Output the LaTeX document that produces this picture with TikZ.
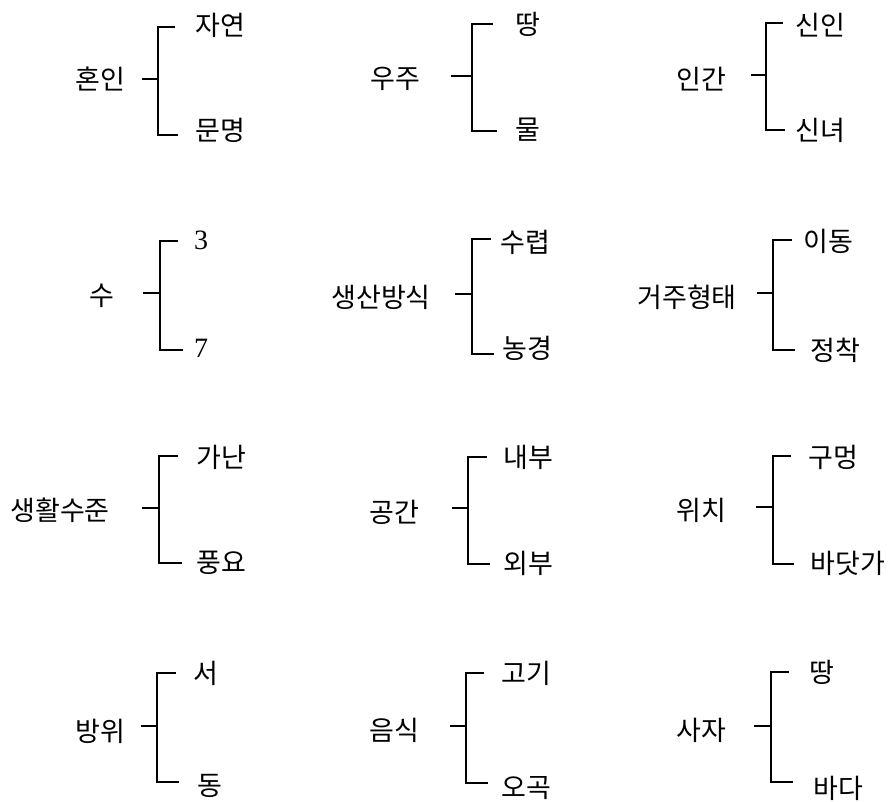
\documentclass[tikz,border=0pt]{standalone}
\usepackage{fontspec}
\setmainfont{Liberation Serif}
\newfontfamily\kr{Noto Sans CJK KR}
\tikzset{
  lbl/.style={inner sep=0pt, font=\kr\fontsize{27}{29}\selectfont},
  numlbl/.style={inner sep=0pt, font=\fontsize{28}{30}\selectfont},
  brk/.style={line width=2pt, line cap=butt, line join=miter}
}
% id, vertical x, top y, bottom y, mid y, stub start x, top end x, bottom end x
\newcommand\mybracket[8]{%
  \coordinate (#1jt) at (#2,#3);
  \coordinate (#1jb) at (#2,#4);
  \coordinate (#1jm) at (#2,#5);
  \coordinate (#1s) at (#6,#5);
  \coordinate (#1te) at (#7,#3);
  \coordinate (#1be) at (#8,#4);
  \draw[brk] (#1te) -- (#1jt) -- (#1jb) -- (#1be);
  \draw[brk] (#1s) -- (#1jm);
}
\begin{document}
\begin{tikzpicture}[x=1pt,y=-1pt]
\useasboundingbox (0,0) rectangle (892,801);
% row 1
\node[lbl] (a) at (100,79) {혼인};
\node[lbl] (a1) at (220,25) {자연};
\node[lbl] (a2) at (220,130) {문명};
\mybracket{A}{158}{27}{135}{79}{142}{175}{178}
\node[lbl] (b) at (395,79) {우주};
\node[lbl] (b1) at (528,24) {땅};
\node[lbl] (b2) at (528,130) {물};
\mybracket{B}{472}{24}{131}{76}{451}{493}{497}
\node[lbl] (c) at (701,79) {인간};
\node[lbl] (c1) at (820,25) {신인};
\node[lbl] (c2) at (820,130) {신녀};
\mybracket{C}{766}{23}{130}{75}{751}{783}{785}
% row 2
\node[lbl] (d) at (102,296) {수};
\node[numlbl] (d1) at (201,240) {3};
\node[numlbl] (d2) at (201,348) {7};
\mybracket{D}{160}{241}{350}{293}{143}{178}{183}
\node[lbl] (e) at (381,297) {생산방식};
\node[lbl] (e1) at (525,242) {수렵};
\node[lbl] (e2) at (527,348) {농경};
\mybracket{E}{472}{239}{354}{294}{455}{491}{494}
\node[lbl] (f) at (687,297) {거주형태};
\node[lbl] (f1) at (828,241) {이동};
\node[lbl] (f2) at (835,350) {정착};
\mybracket{F}{773}{240}{350}{293}{757}{792}{795}
% row 3
\node[lbl] (g) at (60,510) {생활수준};
\node[lbl] (g1) at (221,457) {가난};
\node[lbl] (g2) at (221,563) {풍요};
\mybracket{G}{159}{456}{563}{508}{142}{178}{182}
\node[lbl] (h) at (394,512) {공간};
\node[lbl] (h1) at (528,457) {내부};
\node[lbl] (h2) at (528,563) {외부};
\mybracket{H}{468}{457}{564}{508}{452}{487}{490}
\node[lbl] (i) at (701,510) {위치};
\node[lbl] (i1) at (833,457) {구멍};
\node[lbl] (i2) at (848,563) {바닷가};
\mybracket{I}{773}{456}{564}{507}{756}{791}{794}
% row 4
\node[lbl] (j) at (100,731) {방위};
\node[lbl] (j1) at (206,673) {서};
\node[lbl] (j2) at (210,786) {동};
\mybracket{J}{157}{673}{782}{726}{141}{176}{179}
\node[lbl] (k) at (394,730) {음식};
\node[lbl] (k1) at (526,673) {고기};
\node[lbl] (k2) at (526,788) {오곡};
\mybracket{K}{466}{673}{783}{726}{450}{484}{488}
\node[lbl] (l) at (701,730) {사자};
\node[lbl] (l1) at (822,672) {땅};
\node[lbl] (l2) at (838,788) {바다};
\mybracket{L}{771}{672}{782}{726}{754}{789}{793}
\end{tikzpicture}
\end{document}
